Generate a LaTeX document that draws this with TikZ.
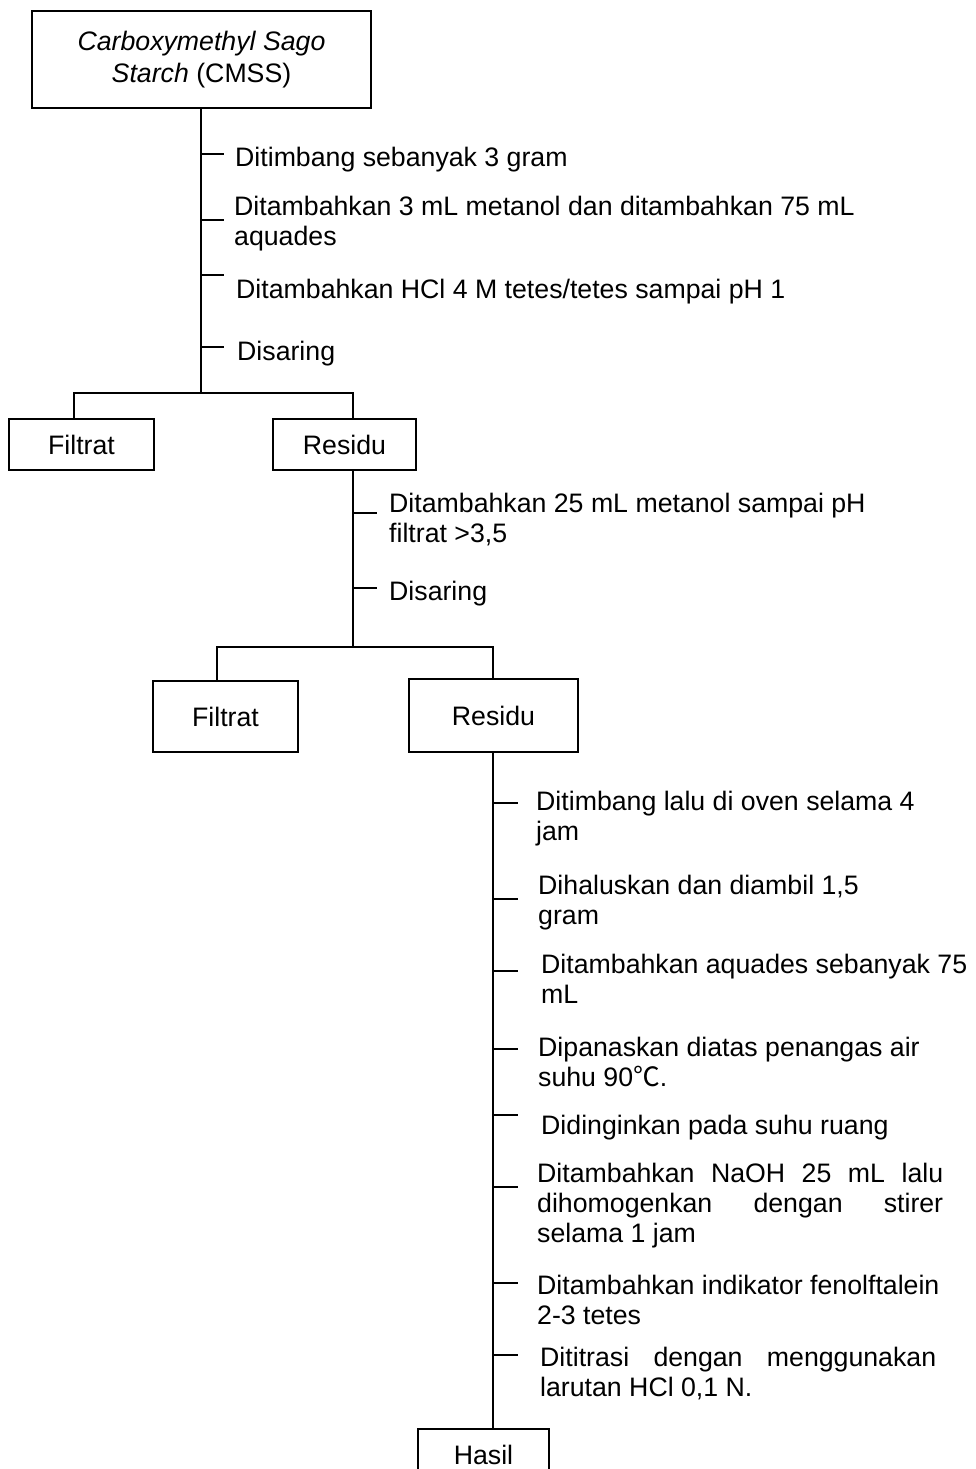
\documentclass[tikz,border=0pt]{standalone}
\usepackage{fontspec}
\setmainfont{Liberation Sans}
\newfontfamily\cjk{Noto Sans CJK SC}

\begin{document}
\begin{tikzpicture}[x=1pt,y=-1pt,
every node/.style={font=\fontsize{26.7}{30}\selectfont,inner sep=0pt},
mainbox/.style={draw,line width=2.6pt,align=center},
subbox/.style={draw,line width=1.4pt,align=center},
stepnote/.style={anchor=north west,align=left},
jstepnote/.style={anchor=north west,align=justify,
  execute at begin node={\tolerance=10000\hbadness=10000}},
trunk/.style={line width=1.8pt},
tick/.style={line width=1.4pt}]
\useasboundingbox (0,0) rectangle (975,1469);

\node[mainbox,minimum width=339pt,minimum height=97pt,
  font=\fontsize{26.7}{32}\selectfont] (cmss) at (201.5,59.5)
  {\textit{Carboxymethyl Sago}\\\textit{Starch} (CMSS)};
\node[subbox,minimum width=145pt,minimum height=51pt] (fil1) at (81.5,444.5) {Filtrat};
\node[subbox,minimum width=143pt,minimum height=51pt] (res1) at (344.5,444.5) {Residu};
\node[subbox,minimum width=145pt,minimum height=71pt] (fil2) at (225.5,716.5) {Filtrat};
\node[subbox,minimum width=169pt,minimum height=73pt] (res2) at (493.5,715.5) {Residu};
\node[mainbox,minimum width=131pt,minimum height=52pt] (hasil) at (483.5,1455) {Hasil};

\coordinate (b1l) at (74,393); \coordinate (b1m) at (201,393); \coordinate (b1r) at (353,393);
\coordinate (b2l) at (217,647); \coordinate (b2m) at (353,647); \coordinate (b2r) at (493,647);

\coordinate (ka) at (224,154); \coordinate (kb) at (224,220);
\coordinate (kc) at (224,275); \coordinate (kd) at (224,347);
\coordinate (ke) at (377,513); \coordinate (kf) at (377,588);
\coordinate (kg) at (518,803); \coordinate (kh) at (518,899);
\coordinate (ki) at (518,971); \coordinate (kj) at (518,1049);
\coordinate (kk) at (518,1115); \coordinate (kl) at (518,1187);
\coordinate (km) at (518,1283); \coordinate (kn) at (518,1355);

\draw[trunk] (b1m |- cmss.south) -- (b1m);
\draw[trunk] (b1l |- fil1.north) -- (b1l) -- (b1r) -- (b1r |- res1.north);
\draw[trunk] (b2m |- res1.south) -- (b2m);
\draw[trunk] (b2l |- fil2.north) -- (b2l) -- (b2r) -- (b2r |- res2.north);
\draw[trunk] (b2r |- res2.south) -- (b2r |- hasil.north);

\draw[tick] (b1m |- ka) -- (ka) (b1m |- kb) -- (kb) (b1m |- kc) -- (kc) (b1m |- kd) -- (kd);
\draw[tick] (b2m |- ke) -- (ke) (b2m |- kf) -- (kf);
\draw[tick] (b2r |- kg) -- (kg) (b2r |- kh) -- (kh) (b2r |- ki) -- (ki) (b2r |- kj) -- (kj)
(b2r |- kk) -- (kk) (b2r |- kl) -- (kl) (b2r |- km) -- (km) (b2r |- kn) -- (kn);

\node[stepnote] (s1) at (235,146.5) {Ditimbang sebanyak 3 gram};
\node[stepnote] (s2) at (234,195.5) {Ditambahkan 3 mL metanol dan ditambahkan 75 mL\\aquades};
\node[stepnote] (s3) at (236,278.5) {Ditambahkan HCl 4 M tetes/tetes sampai pH 1};
\node[stepnote] (s4) at (237,340.5) {Disaring};
\node[stepnote] (s5) at (389,492.5) {Ditambahkan 25 mL metanol sampai pH\\filtrat >3,5};
\node[stepnote] (s6) at (389,580.5) {Disaring};
\node[stepnote] (s7) at (536,791) {Ditimbang lalu di oven selama 4\\jam};
\node[stepnote] (s8) at (538,875) {Dihaluskan dan diambil 1,5\\gram};
\node[stepnote] (s9) at (541,953.5) {Ditambahkan aquades sebanyak 75\\mL};
\node[stepnote] (s10) at (538,1036.5) {Dipanaskan diatas penangas air\\suhu 90{\cjk ℃}.};
\node[stepnote] (s11) at (541,1114.5) {Didinginkan pada suhu ruang};
\node[jstepnote,text width=406pt] (s12) at (537,1162.5)
  {Ditambahkan NaOH 25 mL lalu\linebreak dihomogenkan dengan stirer\linebreak selama 1 jam};
\node[stepnote] (s13) at (537,1274.5) {Ditambahkan indikator fenolftalein\\2-3 tetes};
\node[jstepnote,text width=396pt] (s14) at (540,1347)
  {Dititrasi dengan menggunakan\linebreak larutan HCl 0,1 N.};
\end{tikzpicture}
\end{document}
